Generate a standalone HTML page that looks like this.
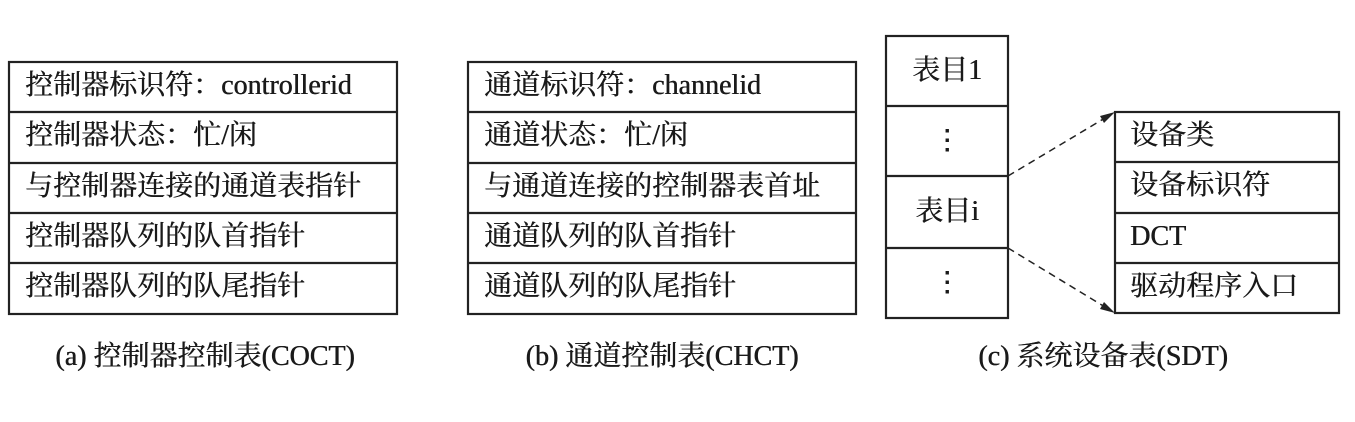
<!DOCTYPE html>
<html><head><meta charset="utf-8"><style>
body{margin:0;width:1355px;height:422px;background:#fff;position:relative;overflow:hidden;font-family:"Liberation Serif","Noto Serif CJK SC",serif;color:#1a1a1a}
.x,.c{position:absolute;font-size:28px;line-height:28px;white-space:nowrap;text-shadow:0.5px 0 0 #1a1a1a}
.c{text-align:center}
</style></head><body>
<svg width="1355" height="422" style="position:absolute;left:0;top:0">
<g fill="none" stroke="#222" stroke-width="2.2">
<rect x="9" y="62" width="388" height="252"/>
<line x1="9" y1="112" x2="397" y2="112"/><line x1="9" y1="163" x2="397" y2="163"/><line x1="9" y1="213" x2="397" y2="213"/><line x1="9" y1="263" x2="397" y2="263"/>
<rect x="468" y="62" width="388" height="252"/>
<line x1="468" y1="112" x2="856" y2="112"/><line x1="468" y1="163" x2="856" y2="163"/><line x1="468" y1="213" x2="856" y2="213"/><line x1="468" y1="263" x2="856" y2="263"/>
<rect x="886" y="36" width="122" height="282"/>
<line x1="886" y1="106" x2="1008" y2="106"/><line x1="886" y1="176" x2="1008" y2="176"/><line x1="886" y1="248" x2="1008" y2="248"/>
<rect x="1115" y="112" width="224" height="201"/>
<line x1="1115" y1="162" x2="1339" y2="162"/><line x1="1115" y1="213" x2="1339" y2="213"/><line x1="1115" y1="263" x2="1339" y2="263"/>
<line x1="1008" y1="176" x2="1105" y2="118" stroke-dasharray="7,5" stroke-width="1.5"/>
<line x1="1008" y1="248" x2="1105" y2="307" stroke-dasharray="7,5" stroke-width="1.5"/>
</g>
<polygon points="1115,112 1100,116 1104,123" fill="#222"/>
<polygon points="1115,313 1104,302 1100,309" fill="#222"/>
</svg>
<div class="x" style="left:25px;top:72px">控制器标识符：controllerid</div>
<div class="x" style="left:25px;top:122px">控制器状态：忙/闲</div>
<div class="x" style="left:25px;top:173px">与控制器连接的通道表指针</div>
<div class="x" style="left:25px;top:223px">控制器队列的队首指针</div>
<div class="x" style="left:25px;top:273px">控制器队列的队尾指针</div>
<div class="x" style="left:484px;top:72px">通道标识符：channelid</div>
<div class="x" style="left:484px;top:122px">通道状态：忙/闲</div>
<div class="x" style="left:484px;top:173px">与通道连接的控制器表首址</div>
<div class="x" style="left:484px;top:223px">通道队列的队首指针</div>
<div class="x" style="left:484px;top:273px">通道队列的队尾指针</div>
<div class="c" style="left:886px;width:122px;top:57px">表目1</div>
<div class="c" style="left:886px;width:122px;top:127px">⋮</div>
<div class="c" style="left:886px;width:122px;top:198px">表目i</div>
<div class="c" style="left:886px;width:122px;top:269px">⋮</div>
<div class="x" style="left:1130px;top:122px">设备类</div>
<div class="x" style="left:1130px;top:172px">设备标识符</div>
<div class="x" style="left:1130px;top:223px">DCT</div>
<div class="x" style="left:1130px;top:273px">驱动程序入口</div>
<div class="c" style="left:0;width:410px;top:343px">(a) 控制器控制表(COCT)</div>
<div class="c" style="left:458px;width:408px;top:343px">(b) 通道控制表(CHCT)</div>
<div class="c" style="left:950px;width:306px;top:343px">(c) 系统设备表(SDT)</div>
</body></html>
